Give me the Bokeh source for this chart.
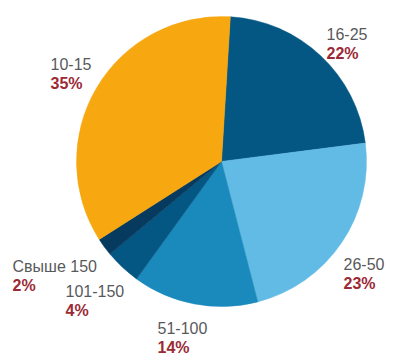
import numpy as np
from bokeh.plotting import figure
from bokeh.models import ColumnDataSource, Range1d
from bokeh.core.properties import value
from bokeh.embed import file_html
from bokeh.resources import INLINE

categories = ["16-25", "26-50", "51-100", "101-150", "Свыше 150", "10-15"]
shares = [22, 23, 14, 4, 2, 35]
pct_labels = ["22%", "23%", "14%", "4%", "2%", "35%"]
colors = ["#045683", "#62bbe4", "#1a89bc", "#045683", "#063b5f", "#f7a70f"]

W, H = 409, 355
cx, cy_px, R = 221, 161, 145
start_deg = 3.5  # clockwise from 12 o'clock

# label anchor (left x, baseline of first line in pixel coords)
label_pos = [(326, 33.5), (343, 263.5), (157, 327), (65, 290.5), (12, 265.5), (50, 63.5)]

vals = np.array(shares, dtype=float)
frac = vals / vals.sum()
cum = np.concatenate([[0], np.cumsum(frac)])
theta1 = np.radians(start_deg) + cum[:-1] * 2 * np.pi
theta2 = np.radians(start_deg) + cum[1:] * 2 * np.pi
start_angles = np.pi / 2 - theta2
end_angles = np.pi / 2 - theta1

src = ColumnDataSource(dict(start=start_angles, end=end_angles, color=colors))

p = figure(width=W, height=H, output_backend="svg", toolbar_location=None,
           x_range=Range1d(0, W), y_range=Range1d(0, H), min_border=0)
p.axis.visible = False
p.grid.visible = False
p.outline_line_color = None
p.background_fill_color = "white"
p.border_fill_color = "white"

p.wedge(x=cx, y=H - cy_px, radius=R, start_angle="start", end_angle="end",
        fill_color="color", line_color="color", line_width=0.5, source=src)

lx = [pp[0] for pp in label_pos]
ly1 = [H - pp[1] for pp in label_pos]
ly2 = [H - pp[1] - 19.5 for pp in label_pos]
lsrc = ColumnDataSource(dict(x=lx, y1=ly1, y2=ly2, cat=categories, pct=pct_labels))

p.text(x="x", y="y1", text="cat", source=lsrc, text_font=value("Liberation Sans"),
       text_font_size="16px", text_color="#58595b", text_baseline="alphabetic",
       text_align="left")
p.text(x="x", y="y2", text="pct", source=lsrc, text_font=value("Liberation Sans"),
       text_font_size="16px", text_font_style="bold", text_color="#9b2a35",
       text_baseline="alphabetic", text_align="left")

open("out.html", "w").write(file_html(p, INLINE))
